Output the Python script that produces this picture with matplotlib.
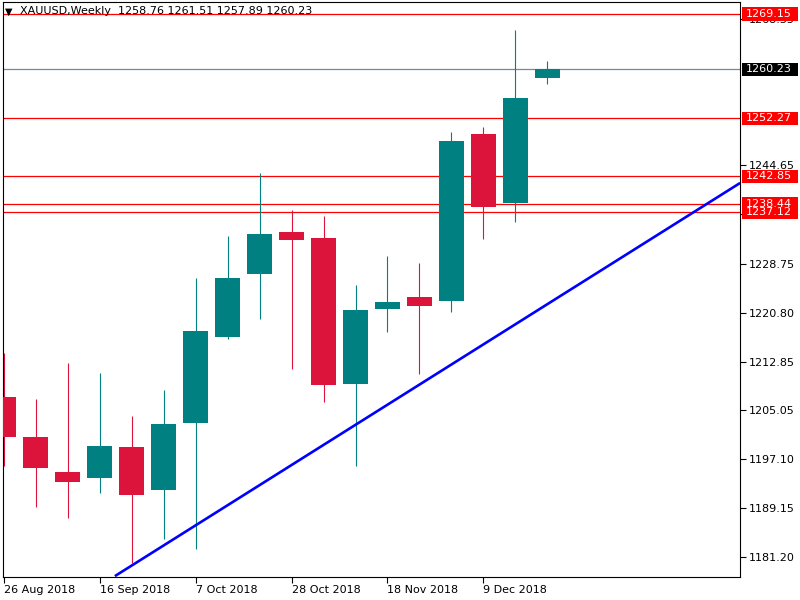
import matplotlib
matplotlib.use('Agg')
from matplotlib import pyplot as plt
from matplotlib.patches import Rectangle
import matplotlib.transforms as mtransforms

#Weekly candles XAUUSD, week of 26 Aug 2018 up to 23 Dec 2018
opens  = [1207.12, 1200.64, 1194.97, 1194.05, 1199.02, 1192.10, 1202.96, 1216.89, 1227.10,
          1233.86, 1232.88, 1209.28, 1221.38, 1223.33, 1222.68, 1249.73, 1238.56, 1258.76]
highs  = [1214.20, 1206.80, 1212.63, 1211.01, 1204.05, 1208.26, 1226.40, 1233.21, 1243.37,
          1237.42, 1236.45, 1225.27, 1229.97, 1228.83, 1250.06, 1250.87, 1266.58, 1261.51]
lows   = [1195.99, 1189.35, 1187.57, 1191.62, 1180.28, 1184.12, 1182.54, 1216.57, 1219.81,
          1211.71, 1206.36, 1195.99, 1217.70, 1210.90, 1220.94, 1232.77, 1235.53, 1257.89]
closes = [1200.69, 1195.67, 1193.40, 1199.18, 1191.29, 1202.75, 1217.82, 1226.40, 1233.53,
          1232.61, 1209.12, 1221.22, 1222.52, 1221.92, 1248.60, 1237.96, 1255.57, 1260.23]

date_ticks = [0, 3, 6, 9, 12, 15]
date_labels = ['26 Aug 2018', '16 Sep 2018', '7 Oct 2018', '28 Oct 2018', '18 Nov 2018', '9 Dec 2018']

#scale ticks (1236.70 and 1268.35 sit partly under the level boxes, as in the terminal)
price_ticks = [1181.20, 1189.15, 1197.10, 1205.05, 1212.85, 1220.80, 1228.75,
               1236.70, 1244.65, 1268.35]

#Horizontal support / resistance levels and last price
levels = [1269.15, 1252.27, 1242.85, 1238.44, 1237.12]
last_price = 1260.23

#Trend line anchors (bar index, price)
trend_x = [3.48, 23.02]
trend_y = [1178.10, 1241.80]

bull = '#008080'
bear = '#DC143C'

fig = plt.figure(figsize=(8, 6), dpi=100)
ax = fig.add_axes([3/800, 23.5/600, 737/800, 574.2/600])

#Levels first so the candles sit on top
for lv in levels:
    ax.axhline(lv, color='#FF0000', lw=0.9, zorder=1)
ax.axhline(last_price, color='#778899', lw=0.9, zorder=1)

#Candles
for i in range(len(opens)):
    o, h, l, c = opens[i], highs[i], lows[i], closes[i]
    col = bull if c >= o else bear
    ax.vlines(i, l, h, color=col, lw=0.8, zorder=2)
    ax.bar(i, abs(c - o), bottom=min(o, c), width=0.78, color=col, lw=0, zorder=3)

#Trend line
ax.plot(trend_x, trend_y, color='#0000FF', lw=1.9, zorder=4, solid_capstyle='butt')

ax.set_xlim(-0.016, 23.016)
ax.set_ylim(1178.04, 1271.07)

#Axis ticks like the terminal
ax.set_xticks(date_ticks)
ax.set_xticklabels(date_labels)
for lab in ax.get_xticklabels():
    lab.set_horizontalalignment('left')
ax.set_yticks(price_ticks)
ax.set_yticklabels(['%.2f' % p for p in price_ticks])
ax.yaxis.tick_right()
ax.tick_params(axis='y', length=4, width=0.8, pad=2.5, labelsize=8, colors='black')
ax.tick_params(axis='x', length=4, width=0.8, pad=2, labelsize=8, colors='black')
for s in ax.spines.values():
    s.set_linewidth(0.8)
    s.set_color('black')

#Price labels on the right scale
trans = mtransforms.blended_transform_factory(ax.transAxes, ax.transData)
def price_box(value, face):
    ax.add_patch(Rectangle((1.0023, value - 1.085), 0.0764, 2.17, transform=trans,
                           facecolor=face, edgecolor='none', clip_on=False, zorder=5))
    ax.text(1.0081, value, '%.2f' % value, transform=trans, color='white', fontsize=8,
            va='center', ha='left', clip_on=False, zorder=6)

for lv in levels:
    price_box(lv, '#FF0000')
price_box(last_price, '#000000')

#Header text
fig.text(5/800, 1 - 11.5/600, '\u25BC', fontsize=7, va='center', ha='left', color='black')
fig.text(20/800, 1 - 11/600, 'XAUUSD,Weekly  1258.76 1261.51 1257.89 1260.23',
         fontsize=8, va='center', ha='left', color='black')

plt.savefig('out.png', dpi=100)
